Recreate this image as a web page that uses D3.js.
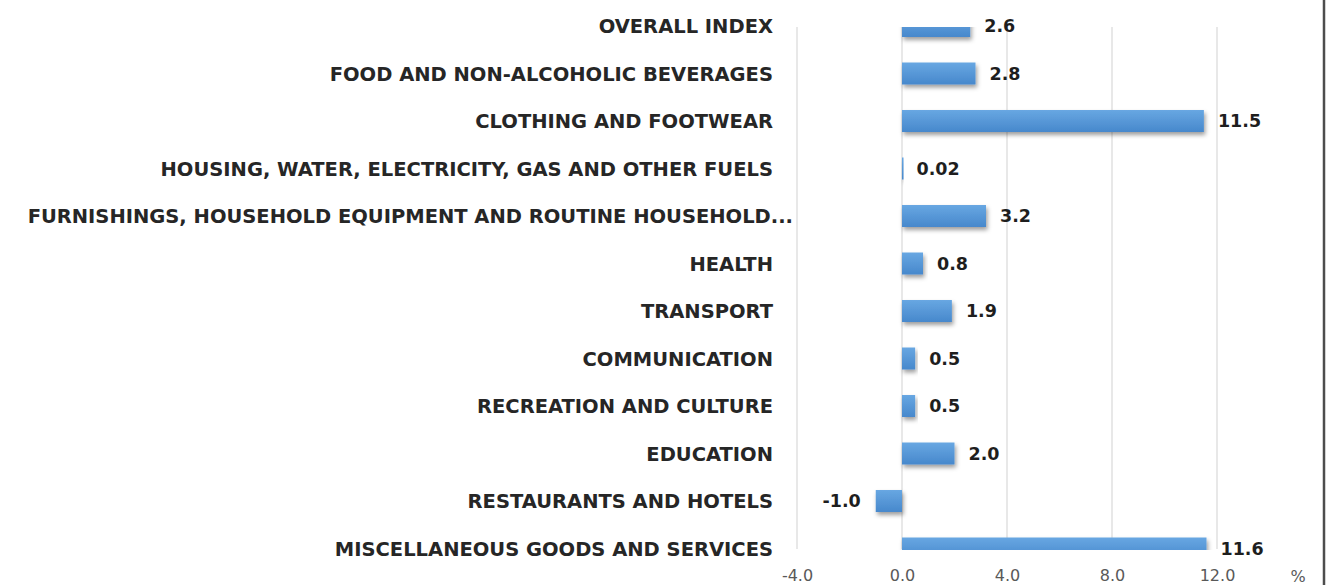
<!DOCTYPE html>
<html>
<head>
<meta charset="utf-8">
<script src="https://cdn.jsdelivr.net/npm/d3@7/dist/d3.min.js"></script>
<style>
  html, body { margin: 0; padding: 0; background: #ffffff; }
  svg { display: block; }
</style>
</head>
<body>
<svg id="chart" width="1333" height="585"></svg>
<script>
const categories = [
  "OVERALL INDEX",
  "FOOD AND NON-ALCOHOLIC BEVERAGES",
  "CLOTHING AND FOOTWEAR",
  "HOUSING, WATER, ELECTRICITY, GAS AND OTHER FUELS",
  "FURNISHINGS, HOUSEHOLD EQUIPMENT AND ROUTINE HOUSEHOLD...",
  "HEALTH",
  "TRANSPORT",
  "COMMUNICATION",
  "RECREATION AND CULTURE",
  "EDUCATION",
  "RESTAURANTS AND HOTELS",
  "MISCELLANEOUS GOODS AND SERVICES"
];
const values = [2.6, 2.8, 11.5, 0.02, 3.2, 0.8, 1.9, 0.5, 0.5, 2.0, -1.0, 11.6];
const valueLabels = ["2.6", "2.8", "11.5", "0.02", "3.2", "0.8", "1.9", "0.5", "0.5", "2.0", "-1.0", "11.6"];
const xTicks = [-4, 0, 4, 8, 12];
const xTickLabels = ["-4.0", "0.0", "4.0", "8.0", "12.0"];
const unitLabel = "%";

const svg = d3.select("#chart");
const W = 1333, H = 585;
const plotTop = 27, plotBottom = 550;

const x = d3.scaleLinear().domain([-4, 12]).range([797, 1217]);
const y = d3.scalePoint().domain(categories).range([26, 548.5]).padding(0);
const barH = 22;

const defs = svg.append("defs");
const grad = defs.append("linearGradient").attr("id", "barGrad")
  .attr("x1", 0).attr("y1", 0).attr("x2", 0).attr("y2", 1);
grad.append("stop").attr("offset", "0%").attr("stop-color", "#68a7e2");
grad.append("stop").attr("offset", "100%").attr("stop-color", "#4788cc");

const shadow = defs.append("filter").attr("id", "shadow")
  .attr("x", "-20%").attr("y", "-40%").attr("width", "140%").attr("height", "200%");
shadow.append("feDropShadow").attr("dx", 1.5).attr("dy", 3).attr("stdDeviation", 2.2)
  .attr("flood-color", "#000").attr("flood-opacity", 0.38);

defs.append("clipPath").attr("id", "plotClip")
  .append("rect").attr("x", 0).attr("y", plotTop).attr("width", W).attr("height", plotBottom - plotTop);

// gridlines
svg.append("g").selectAll("line").data(xTicks).join("line")
  .attr("x1", d => x(d)).attr("x2", d => x(d))
  .attr("y1", plotTop).attr("y2", plotBottom - 1)
  .attr("stroke", "#d9d9d9").attr("stroke-width", 1.2);

// bars
svg.append("g").attr("clip-path", "url(#plotClip)")
  .selectAll("rect").data(values).join("rect")
  .attr("x", d => Math.min(x(0), x(d)))
  .attr("width", d => Math.max(1.5, Math.abs(x(d) - x(0))))
  .attr("y", (d, i) => y(categories[i]) - barH / 2)
  .attr("height", barH)
  .attr("fill", "url(#barGrad)")
  .attr("filter", "url(#shadow)");

// value labels
svg.append("g").selectAll("text").data(values).join("text")
  .attr("x", d => d >= 0 ? x(d) + 14 : x(d) - 15)
  .attr("y", (d, i) => y(categories[i]))
  .attr("dy", "0.36em")
  .attr("text-anchor", d => d >= 0 ? "start" : "end")
  .attr("font-family", "'DejaVu Sans', sans-serif")
  .attr("font-weight", "bold")
  .attr("font-size", 17.5)
  .attr("fill", "#1e1e1e")
  .text((d, i) => valueLabels[i]);

// category labels
svg.append("g").selectAll("text").data(categories).join("text")
  .attr("x", d => d.endsWith("...") ? 793 : 773)
  .attr("y", d => y(d))
  .attr("dy", "0.36em")
  .attr("text-anchor", "end")
  .attr("font-family", "'DejaVu Sans', sans-serif")
  .attr("font-weight", "bold")
  .attr("font-size", 19.5)
  .attr("fill", "#262626")
  .text(d => d);

// x axis
const xAxis = d3.axisBottom(x).tickValues(xTicks)
  .tickFormat((d, i) => xTickLabels[i]).tickSize(0);
const gx = svg.append("g").attr("transform", "translate(0,566)").call(xAxis);
gx.select(".domain").remove();
gx.selectAll("text")
  .attr("font-family", "'DejaVu Sans', sans-serif")
  .attr("font-size", 16)
  .attr("fill", "#595959")
  .attr("dy", "0.71em")
  .attr("y", 4);

svg.append("text")
  .attr("x", 1298).attr("y", 576).attr("dy", "0.36em")
  .attr("text-anchor", "middle")
  .attr("font-family", "'DejaVu Sans', sans-serif")
  .attr("font-size", 16)
  .attr("fill", "#595959")
  .text(unitLabel);

// right border
svg.append("line").attr("x1", 1324).attr("x2", 1324).attr("y1", 0).attr("y2", H)
  .attr("stroke", "#4d4d4d").attr("stroke-width", 2.5);
</script>
</body>
</html>
